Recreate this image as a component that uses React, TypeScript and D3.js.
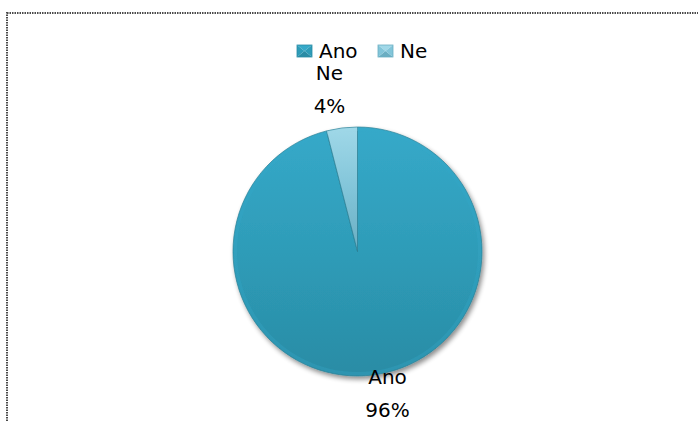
import React from 'react';
import * as d3 from 'd3';

// chart data
const categories = ['Ano', 'Ne'];
const values = [96, 4];
const percentLabels = ['96%', '4%'];

const W = 698;
const H = 421;
const FONT = '"DejaVu Sans", sans-serif';

const App = () => {
  const cx = 357.5;
  const cy = 251.5;
  const r = 124.5;

  const slices = d3.pie<number>().sort(null).value(d => d)(values);
  const arc = d3.arc<d3.PieArcDatum<number>>().innerRadius(0).outerRadius(r);
  const rim = d3.arc<d3.PieArcDatum<number>>().innerRadius(r - 4).outerRadius(r - 0.5);

  const color = d3.scaleOrdinal<string, string>().domain(categories).range(['#2e9cb8', '#82c5d9']);
  const colorTop = d3.scaleOrdinal<string, string>().domain(categories).range(['#36a9c9', '#a0d8e8']);
  const colorBottom = d3.scaleOrdinal<string, string>().domain(categories).range(['#2a8ca5', '#6aaec2']);

  // label positions (Excel puts them outside)
  const labelPos = [
    { x: cx + 30, y: cy + 132 },
    { x: cx - 28, y: cy - 172 },
  ];

  return (
    <svg width={W} height={H} style={{ position: 'absolute', left: 0, top: 0, background: '#fff' }} fontFamily={FONT}>
      <defs>
        {categories.map(c => (
          <linearGradient key={c} id={`g-${c}`} x1="0" y1="0" x2="0" y2="1">
            <stop offset="0%" stopColor={colorTop(c)} />
            <stop offset="50%" stopColor={color(c)} />
            <stop offset="100%" stopColor={colorBottom(c)} />
          </linearGradient>
        ))}
        <filter id="shadow" x="-20%" y="-20%" width="140%" height="140%">
          <feGaussianBlur in="SourceAlpha" stdDeviation="2.5" />
          <feOffset dx="2" dy="3" result="b" />
          <feComponentTransfer><feFuncA type="linear" slope="0.45" /></feComponentTransfer>
          <feMerge><feMergeNode /><feMergeNode in="SourceGraphic" /></feMerge>
        </filter>
      </defs>

      <rect x={7} y={13} width={W} height={H} fill="none" stroke="#4a4a4a" strokeWidth={2} strokeDasharray="1.5,1" />

      <g transform={`translate(${cx},${cy})`} filter="url(#shadow)">
        {slices.map((s, i) => (
          <path key={i} d={arc(s) ?? ''} fill={`url(#g-${categories[i]})`} stroke="#2a7f95" strokeWidth={0.7} />
        ))}
        {slices.map((s, i) => (
          <path key={`rim${i}`} d={rim(s) ?? ''} fill={colorTop(categories[i])} opacity={0.3} />
        ))}
      </g>

      {slices.map((s, i) => (
        <text key={`l${i}`} x={labelPos[i].x} y={labelPos[i].y} textAnchor="middle" fontSize={20} fill="#000">
          <tspan x={labelPos[i].x} dy={0}>{categories[i]}</tspan>
          <tspan x={labelPos[i].x} dy={33}>{percentLabels[i]}</tspan>
        </text>
      ))}

      {/* legend */}
      {categories.map((c, i) => {
        const lx = [297, 378][i];
        const ly = 45;
        const s = 15;
        const h = 12;
        const mx = lx + s / 2;
        const my = ly + h / 2;
        return (
          <g key={`lg${c}`}>
            <path d={`M${lx},${ly}L${lx + s},${ly}L${mx},${my}Z`} fill={colorTop(c)} />
            <path d={`M${lx},${ly + h}L${lx + s},${ly + h}L${mx},${my}Z`} fill={colorBottom(c)} />
            <path d={`M${lx},${ly}L${lx},${ly + h}L${mx},${my}Z`} fill={color(c)} />
            <path d={`M${lx + s},${ly}L${lx + s},${ly + h}L${mx},${my}Z`} fill={color(c)} />
            <rect x={lx} y={ly} width={s} height={h} fill="none" stroke={colorBottom(c)} strokeWidth={0.8} />
            <text x={lx + 22} y={58} fontSize={20} fill="#000">{c}</text>
          </g>
        );
      })}
    </svg>
  );
};

export default App;
